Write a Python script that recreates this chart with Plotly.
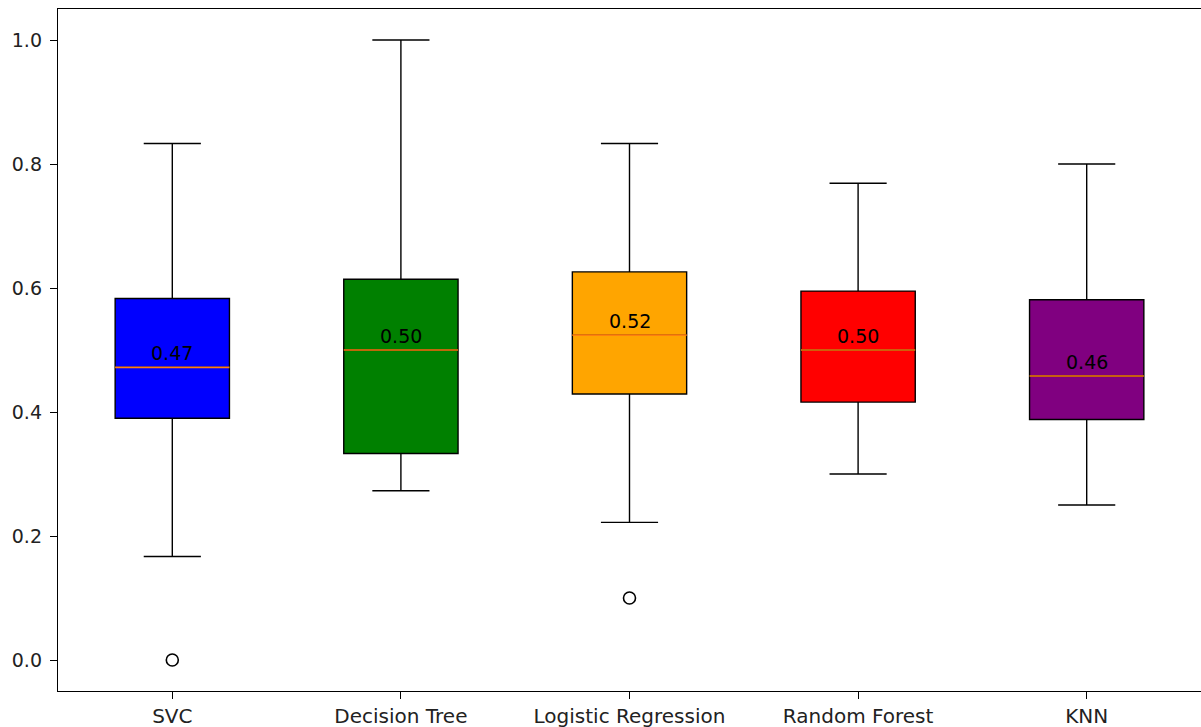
import plotly.graph_objects as go

models = ["SVC", "Decision Tree", "Logistic Regression", "Random Forest", "KNN"]
box_colors = ["blue", "green", "orange", "red", "purple"]
q1 = [0.390, 0.333, 0.429, 0.416, 0.388]
medians = [0.472, 0.500, 0.524, 0.500, 0.458]
q3 = [0.583, 0.614, 0.626, 0.595, 0.581]
lower_whisker = [0.167, 0.273, 0.222, 0.300, 0.250]
upper_whisker = [0.833, 1.000, 0.833, 0.769, 0.800]
outlier_models = ["SVC", "Logistic Regression"]
outlier_values = [0.0, 0.1]

positions = list(range(1, len(models) + 1))
pos_of = dict(zip(models, positions))
BOX_W = 0.5
FONT = "DejaVu Sans"

fig = go.Figure()
for i, name in enumerate(models):
    p = positions[i]
    fig.add_trace(go.Box(
        x=[p], q1=[q1[i]], median=[medians[i]], q3=[q3[i]],
        lowerfence=[lower_whisker[i]], upperfence=[upper_whisker[i]],
        width=BOX_W, whiskerwidth=0.5,
        fillcolor=box_colors[i], line=dict(color="black", width=1.4),
        boxpoints=False, name=name, showlegend=False, hoverinfo="skip",
    ))
    fig.add_trace(go.Scatter(
        x=[p - BOX_W / 2, p + BOX_W / 2], y=[medians[i], medians[i]],
        mode="lines", line=dict(color="#ff7f0e", width=1.6),
        showlegend=False, hoverinfo="skip",
    ))
    fig.add_annotation(
        x=p, y=medians[i], text=f"{medians[i]:.2f}", showarrow=False,
        xanchor="center", yanchor="bottom", yshift=1,
        font=dict(family=FONT, size=19, color="black"),
    )

fig.add_trace(go.Scatter(
    x=[pos_of[m] for m in outlier_models], y=outlier_values, mode="markers",
    marker=dict(symbol="circle-open", size=12, color="black", line=dict(width=1.6)),
    showlegend=False, hoverinfo="skip",
))

fig.update_layout(
    width=1201, height=727,
    margin=dict(l=58, r=0, t=9, b=36),
    paper_bgcolor="white", plot_bgcolor="white",
    boxmode="overlay",
    font=dict(family=FONT, size=19, color="#222"),
)
fig.update_xaxes(
    range=[0.5, 5.5], tickvals=positions, ticktext=models,
    tickfont=dict(size=20),
    showgrid=False, zeroline=False,
    showline=True, linecolor="black", linewidth=1.4, mirror=True,
    ticks="outside", ticklen=7, tickwidth=1.4, tickcolor="black",
)
fig.update_yaxes(
    range=[-0.05, 1.05], tickvals=[0.0, 0.2, 0.4, 0.6, 0.8, 1.0],
    tickformat=".1f", tickfont=dict(size=19), ticklabelstandoff=4,
    showgrid=False, zeroline=False,
    showline=True, linecolor="black", linewidth=1.4, mirror=True,
    ticks="outside", ticklen=7, tickwidth=1.4, tickcolor="black",
)

fig.write_html("out.html", config={"displayModeBar": False},
               post_script="document.body.style.margin='0';")
